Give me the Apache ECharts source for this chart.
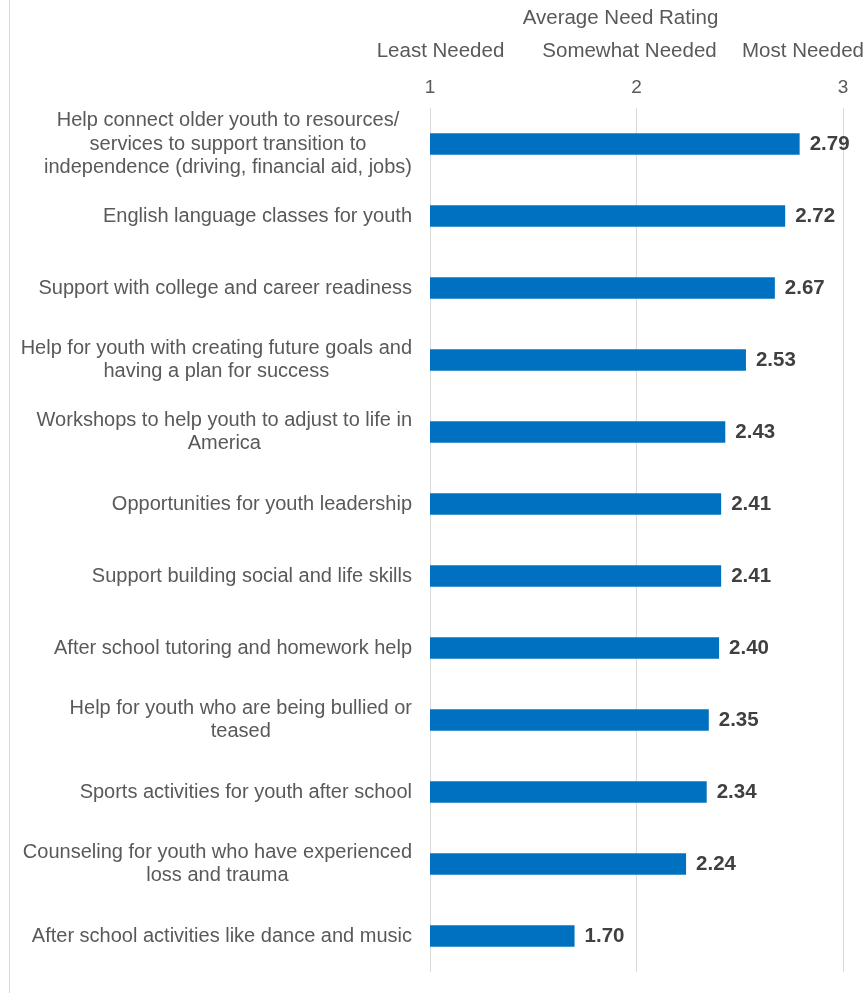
<!DOCTYPE html>
<html>
<head>
<meta charset="utf-8">
<script src="https://cdn.jsdelivr.net/npm/echarts@6/dist/echarts.min.js"></script>
<style>
  html, body { margin: 0; padding: 0; background: #ffffff; }
  #chart { width: 865px; height: 993px; }
</style>
</head>
<body>
<div id="chart"></div>
<script>
// Needs, top to bottom, with their wrapped label lines
const needs = [
  "Help connect older youth to resources/\nservices to support transition to\nindependence (driving, financial aid, jobs)",
  "English language classes for youth",
  "Support with college and career readiness",
  "Help for youth with creating future goals and\nhaving a plan for success",
  "Workshops to help youth to adjust to life in\nAmerica",
  "Opportunities for youth leadership",
  "Support building social and life skills",
  "After school tutoring and homework help",
  "Help for youth who are being bullied or\nteased",
  "Sports activities for youth after school",
  "Counseling for youth who have experienced\nloss and trauma",
  "After school activities like dance and music"
];

// Average need rating for each item (1 = least, 3 = most)
const ratings = [2.79, 2.72, 2.67, 2.53, 2.43, 2.41, 2.41, 2.40, 2.35, 2.34, 2.24, 1.70];

// Scale ticks and their descriptive headings
const scaleTicks = [1, 2, 3];
const scaleHeadings = ["Least Needed", "Somewhat Needed", "Most Needed"];
const axisTitle = "Average Need Rating";

const FONT = "'Liberation Sans', Arial, sans-serif";
const GREY_TEXT = "#595959";
const GRID_LINE = "#d9d9d9";

const chart = echarts.init(document.getElementById('chart'), null, { renderer: 'canvas' });

// Heading positions along the top of the scale
const headingX = [440.5, 629.5, 803];

chart.setOption({
  animation: false,
  backgroundColor: '#ffffff',
  grid: {
    left: 430,
    right: 22,
    top: 108,
    bottom: 21,
    containLabel: false,
    outerBoundsMode: 'none'
  },
  xAxis: {
    type: 'value',
    position: 'top',
    min: scaleTicks[0],
    max: scaleTicks[scaleTicks.length - 1],
    interval: 1,
    axisLine: { show: false },
    axisTick: { show: false },
    axisLabel: {
      color: GREY_TEXT,
      fontFamily: FONT,
      fontSize: 19,
      margin: 11
    },
    splitLine: { show: true, lineStyle: { color: GRID_LINE, width: 1 } }
  },
  yAxis: {
    type: 'category',
    inverse: true,
    data: needs,
    axisLine: { show: false },
    axisTick: { show: false },
    axisLabel: {
      margin: 18,
      align: 'right',
      formatter: function (v) {
        return v.split('\n').map(function (l) { return '{c|' + l + '}'; }).join('\n');
      },
      rich: {
        c: {
          align: 'center',
          color: GREY_TEXT,
          fontFamily: FONT,
          fontSize: 20,
          lineHeight: 23.5
        }
      }
    }
  },
  series: [{
    type: 'bar',
    data: ratings,
    barWidth: '30%',
    itemStyle: { color: '#0070C0' },
    label: {
      show: true,
      position: 'right',
      distance: 10,
      color: '#404040',
      fontFamily: FONT,
      fontSize: 20.5,
      fontWeight: 'bold',
      formatter: function (p) { return p.value.toFixed(2); }
    }
  }],
  graphic: [
    {
      type: 'line',
      shape: { x1: 9.5, y1: 0, x2: 9.5, y2: 993 },
      style: { stroke: GRID_LINE, lineWidth: 1 }
    },
    {
      type: 'text',
      x: 620.5, y: 18.5,
      style: {
        text: axisTitle,
        fill: GREY_TEXT,
        font: '20.5px ' + FONT,
        textAlign: 'center',
        textVerticalAlign: 'middle'
      }
    }
  ].concat(scaleHeadings.map(function (h, i) {
    return {
      type: 'text',
      x: headingX[i], y: 51,
      style: {
        text: h,
        fill: GREY_TEXT,
        font: '20.5px ' + FONT,
        textAlign: 'center',
        textVerticalAlign: 'middle'
      }
    };
  }))
});
</script>
</body>
</html>
